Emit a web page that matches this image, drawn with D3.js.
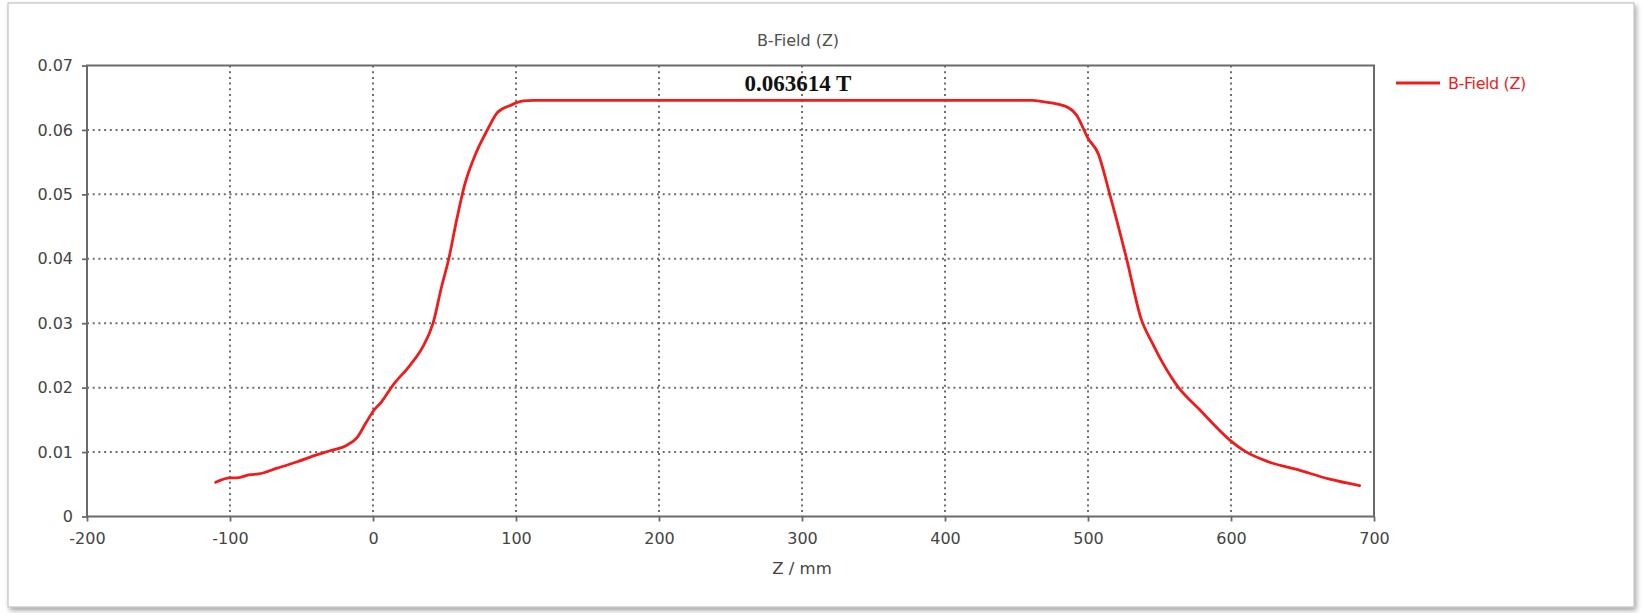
<!DOCTYPE html>
<html>
<head>
<meta charset="utf-8">
<script src="https://cdn.jsdelivr.net/npm/d3@7"></script>
<style>
	body { margin: 0; background: #fff; }
	text { font-family: "DejaVu Sans", sans-serif; }
</style>
</head>
<body>
<svg id="chart" width="1642" height="613"></svg>
<script>
// B-Field (Z) profile along the axis

var z_mm = [-110, -100, -95, -86, -80, -67, -53, -39, -30, -18, -11, -5, 0, 6, 14, 26, 35, 42, 48, 53, 58, 64, 72, 80, 87, 96, 105, 112,
	200, 300, 400, 461, 468, 484, 492, 500, 507, 515, 527, 537, 545, 562, 578, 599, 610, 626, 646, 669, 690];
var b_field = [0.0053, 0.0060, 0.0060, 0.0065, 0.0066, 0.0075, 0.0085, 0.0096, 0.0102, 0.0111, 0.0123, 0.0145, 0.0163, 0.0178, 0.0204,
	0.0235, 0.0264, 0.0300, 0.0357, 0.0400, 0.0455, 0.0514, 0.0564, 0.0600, 0.0627, 0.0638, 0.0645, 0.0646,
	0.0646, 0.0646, 0.0646, 0.0646, 0.0644, 0.0637, 0.0623, 0.0587, 0.0564, 0.0502, 0.0400, 0.0308, 0.0269, 0.0204,
	0.0166, 0.0119, 0.0101, 0.0085, 0.0073, 0.0058, 0.0048];
var x_ticks = [-200, -100, 0, 100, 200, 300, 400, 500, 600, 700];
var y_ticks = [0, 0.01, 0.02, 0.03, 0.04, 0.05, 0.06, 0.07];
var series_name = "B-Field (Z)";
var peak_label = "0.063614 T";

var line_color = "#f01c1c";
var frame_color = "#6a6a6a";

var svg_handle = d3.select("#chart");

// outer panel with a soft shadow
var defs = svg_handle.append("defs");
var shadow = defs.append("filter").attr("id", "shadow")
	.attr("x", "-2%").attr("y", "-2%").attr("width", "104%").attr("height", "106%");
shadow.append("feDropShadow")
	.attr("dx", 2).attr("dy", 3).attr("stdDeviation", 2.5)
	.attr("flood-color", "#000").attr("flood-opacity", 0.35);

svg_handle.append("rect")
	.attr("x", 8).attr("y", 3)
	.attr("width", 1626).attr("height", 604)
	.attr("fill", "#fff")
	.attr("stroke", "#b8b8b8")
	.attr("stroke-width", 1)
	.attr("filter", "url(#shadow)");

var plot_left = 87, plot_right = 1374, plot_top = 65.5, plot_bottom = 516.5;

var x = d3.scaleLinear().domain([-200, 700]).range([plot_left, plot_right]);
var y = d3.scaleLinear().domain([0, 0.07]).range([plot_bottom, plot_top]);

// dotted grid
var grid = svg_handle.append("g").attr("class", "grid");
grid.selectAll("line.v")
	.data(x_ticks.slice(1, -1))
	.enter().append("line")
	.attr("class", "v")
	.attr("x1", d => x(d)).attr("x2", d => x(d))
	.attr("y1", plot_top).attr("y2", plot_bottom)
	.attr("stroke", "#6e6e6e")
	.attr("stroke-width", 2)
	.attr("stroke-dasharray", "2 3.7");
grid.selectAll("line.h")
	.data(y_ticks.slice(1, -1))
	.enter().append("line")
	.attr("class", "h")
	.attr("x1", plot_left).attr("x2", plot_right)
	.attr("y1", d => y(d)).attr("y2", d => y(d))
	.attr("stroke", "#6e6e6e")
	.attr("stroke-width", 2)
	.attr("stroke-dasharray", "2 3.7");

// axes
var x_axis = svg_handle.append("g")
	.attr("transform", "translate(0," + plot_bottom + ")")
	.call(d3.axisBottom(x).tickValues(x_ticks).tickSize(5).tickPadding(7).tickFormat(d => String(d)));
var y_axis = svg_handle.append("g")
	.attr("transform", "translate(" + plot_left + ",0)")
	.call(d3.axisLeft(y).tickValues(y_ticks).tickSize(5).tickPadding(9).tickFormat(d => d == 0 ? "0" : d3.format(".2f")(d)));

[x_axis, y_axis].forEach(a => {
	a.select(".domain").remove();
	a.selectAll(".tick line").attr("stroke", frame_color).attr("stroke-width", 1.8);
	a.selectAll(".tick text")
		.attr("fill", "#444")
		.style("font-size", "16px")
		.style("font-family", "'DejaVu Sans', sans-serif");
});
x_axis.selectAll(".tick text").attr("dy", "0.95em");

// plot frame
svg_handle.append("rect")
	.attr("x", plot_left).attr("y", plot_top)
	.attr("width", plot_right - plot_left).attr("height", plot_bottom - plot_top)
	.attr("fill", "none")
	.attr("stroke", frame_color)
	.attr("stroke-width", 2);

// the curve
var points = z_mm.map((z, i) => [z, b_field[i]]);
svg_handle.append("path")
	.datum(points)
	.attr("fill", "none")
	.attr("stroke", line_color)
	.attr("stroke-width", 2.8)
	.attr("stroke-linejoin", "round")
	.attr("stroke-linecap", "round")
	.attr("d", d3.line().curve(d3.curveMonotoneX).x(p => x(p[0])).y(p => y(p[1])));

// titles
svg_handle.append("text")
	.attr("x", 798).attr("y", 46)
	.attr("text-anchor", "middle")
	.attr("fill", "#505050")
	.style("font-size", "16px")
	.text(series_name);

svg_handle.append("text")
	.attr("x", 798).attr("y", 91)
	.attr("text-anchor", "middle")
	.attr("fill", "#111")
	.style("font-family", "'Liberation Serif', serif")
	.style("font-weight", "bold")
	.style("font-size", "23px")
	.text(peak_label);

svg_handle.append("text")
	.attr("x", 802).attr("y", 574)
	.attr("text-anchor", "middle")
	.attr("fill", "#444")
	.style("font-size", "16.5px")
	.text("Z / mm");

// legend
var legend = svg_handle.append("g").attr("transform", "translate(1396,83)");
legend.append("line")
	.attr("x1", 0).attr("x2", 44)
	.attr("stroke", line_color)
	.attr("stroke-width", 2.8);
legend.append("text")
	.attr("x", 52).attr("dy", "0.35em")
	.attr("fill", line_color)
	.style("font-size", "16px")
	.style("letter-spacing", "-0.4px")
	.text(series_name);
</script>
</body>
</html>
